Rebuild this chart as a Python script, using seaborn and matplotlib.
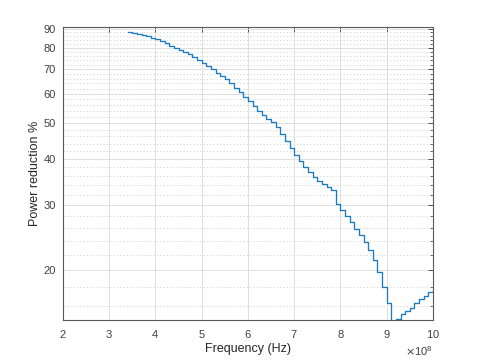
import numpy as np
import pandas as pd
import seaborn as sns
import matplotlib
matplotlib.use("Agg")
import matplotlib.pyplot as plt
from matplotlib.ticker import FixedLocator, ScalarFormatter, NullFormatter, FixedFormatter

# Frequency in units of 1e8 Hz (step 0.1e8)
freq_e8 = [3.4, 3.5, 3.6, 3.7, 3.8, 3.9, 4.0, 4.1, 4.2, 4.3, 4.4, 4.5, 4.6, 4.7,
           4.8, 4.9, 5.0, 5.1, 5.2, 5.3, 5.4, 5.5, 5.6, 5.7, 5.8, 5.9, 6.0, 6.1,
           6.2, 6.3, 6.4, 6.5, 6.6, 6.7, 6.8, 6.9, 7.0, 7.1, 7.2, 7.3, 7.4, 7.5,
           7.6, 7.7, 7.8, 7.9, 8.0, 8.1, 8.2, 8.3, 8.4, 8.5, 8.6, 8.7, 8.8, 8.9,
           9.0, 9.1, 9.2, 9.3, 9.4, 9.5, 9.6, 9.7, 9.8, 9.9, 10.0]
power_red = [88.0, 87.6, 87.1, 86.5, 85.8, 85.1, 84.3, 83.3, 82.2, 81.0, 80.0, 79.0,
             77.9, 76.8, 75.6, 74.3, 72.9, 71.4, 69.9, 68.5, 67.1, 65.6, 64.1, 62.4,
             60.6, 58.9, 57.2, 55.5, 53.9, 52.6, 51.4, 50.3, 48.8, 46.8, 44.8, 42.8,
             41.0, 39.5, 38.0, 36.8, 35.8, 34.9, 34.2, 33.5, 32.9, 30.2, 29.0, 28.0,
             27.0, 25.9, 24.9, 23.8, 22.6, 21.3, 19.8, 18.0, 16.3, 14.4, 14.7, 15.2,
             15.5, 15.8, 16.3, 16.7, 17.0, 17.4, 17.7]

x_ticks_e8 = [2, 3, 4, 5, 6, 7, 8, 9, 10]
y_tick_values = [20, 30, 40, 50, 60, 70, 80, 90]

df = pd.DataFrame({"freq": np.array(freq_e8) * 1e8, "power": power_red})

sns.set_style("white")
plt.rcParams['font.family'] = ['Liberation Sans', 'DejaVu Sans']

fig = plt.figure(figsize=(4.8, 3.6), dpi=100)
ax = fig.add_axes([0.131, 0.111, 0.771, 0.814])

sns.lineplot(data=df, x="freq", y="power", ax=ax, estimator=None,
             drawstyle="steps-post", color="#1a7cc4", linewidth=0.95)

ax.set_yscale("log")
ax.set_xlim(2e8, 10e8)
ax.set_ylim(14.64, 91.0)

ax.xaxis.set_major_locator(FixedLocator([t * 1e8 for t in x_ticks_e8]))
fmt = ScalarFormatter(useMathText=True)
fmt.set_powerlimits((8, 8))
ax.xaxis.set_major_formatter(fmt)

ax.yaxis.set_major_locator(FixedLocator(y_tick_values))
ax.yaxis.set_major_formatter(FixedFormatter([str(v) for v in y_tick_values]))
minor_vals = [v for v in range(16, 90, 2) if v not in y_tick_values]
ax.yaxis.set_minor_locator(FixedLocator(minor_vals))
ax.yaxis.set_minor_formatter(NullFormatter())

ax.grid(True, which="major", color="#dedede", linewidth=0.7, linestyle="-")
ax.grid(True, which="minor", axis="y", color="#d0d0d0", linewidth=0.6, linestyle=(0, (1.5, 2.5)))
ax.set_axisbelow(True)

for s in ax.spines.values():
    s.set_visible(True)
    s.set_color("#5a5a5a")
    s.set_linewidth(0.8)

ax.tick_params(which="both", direction="in", top=True, right=True,
               colors="#3a3a3a", labelcolor="#404040", labelsize=8)
ax.tick_params(which="major", length=3.5, width=0.6)
ax.tick_params(which="minor", length=2, width=0.5)
ax.tick_params(axis="x", pad=6)
ax.tick_params(axis="y", pad=5)
ax.xaxis.get_offset_text().set_fontsize(8)
ax.xaxis.get_offset_text().set_color("#404040")

ax.set_xlabel("Frequency (Hz)", fontsize=9, color="#262626", labelpad=2)
ax.set_ylabel("Power reduction %", fontsize=9, color="#262626", labelpad=2)

fig.savefig("out.png", dpi=100)
